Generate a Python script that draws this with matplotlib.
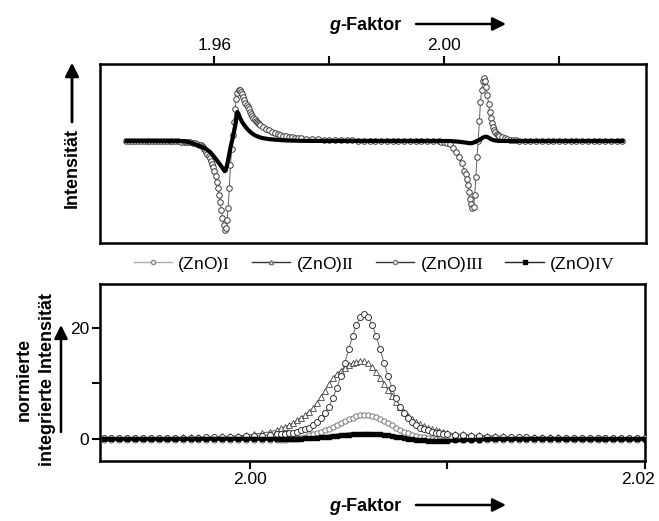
import numpy as np
import matplotlib
matplotlib.use("Agg")
import matplotlib.pyplot as plt
import matplotlib.transforms as mtransforms
from matplotlib.lines import Line2D

plt.rcParams['font.family'] = ['Liberation Sans', 'DejaVu Sans']
plt.rcParams['mathtext.fontset'] = 'custom'
plt.rcParams['mathtext.rm'] = 'Liberation Serif'

# ---- top panel: EPR derivative spectra (g sample grid, then values) ----
top_segments = [(1.9447, 1.9547, 0.0005), (1.9550, 1.9574, 0.0004),
                (1.9576, 1.9680, 0.0002), (1.9685, 1.9745, 0.0005),
                (1.9750, 1.9990, 0.001), (1.9995, 2.0035, 0.0005),
                (2.0037, 2.0095, 0.0002), (2.0100, 2.0130, 0.0005),
                (2.0140, 2.0310, 0.001)]

top_circles = [
    0, 0, 0, 0, 0, 0, 0, 0, 0, 0, 0, 0, 0, -0.1, -0.1, -0.2, -0.2, -0.3, -0.4, -0.5, -0.7,
    -0.8, -1.0, -1.3, -1.7, -2.2, -2.9, -3.8,
    -4.3, -5.2, -6.3, -7.6, -9.0, -10.8, -12.8, -15.0, -17.2, -19.5, -22.5, -26.0, -30.0,
    -35.0, -40.7, -47.0, -53.5, -60.7, -68.5, -76.5, -84.0, -89.0, -87.0, -79.0, -67.0,
    -47.0, -24.0, -8.0, 6.5, 19.5, 32.0, 42.0, 48.5, 51.3, 51.5, 49.5, 47.0, 44.3, 41.4,
    38.5, 36.0, 33.8, 31.6, 29.4, 27.2, 25.3, 23.5, 21.8, 20.4, 19.1, 17.9, 16.9, 16.0,
    14.0, 12.2, 10.6, 9.2, 8.0, 7.0, 6.1, 5.4, 4.8, 4.3, 3.9, 3.5, 3.1,
    2.8, 2.3, 1.9, 1.6, 1.3, 1.1, 0.9, 0.8, 0.7, 0.6, 0.5, 0.5, 0.4, 0.4, 0.3, 0.3, 0.2,
    0.2, 0.1, 0.1, 0.0, 0.0, -0.1, -0.2, -0.3,
    -0.5, -1.0, -1.8, -3.3, -7.0, -10.5, -15.5, -22.0, -29.5,
    -33.0, -38.0, -43.5, -51.0, -57.5, -63.0, -66.5, -66.0, -54.0, -36.0, -16.0, 0.0,
    20.0, 39.0, 51.0, 60.0, 63.3, 60.0, 54.0, 46.0, 37.0, 29.0, 23.0, 18.0, 14.0, 11.0,
    9.0, 7.2, 6.0, 5.0,
    3.8, 2.8, 2.0, 1.4, 1.0, 0.7, 0.5,
    0.3, 0.2, 0.1, 0.1, 0, 0, 0, 0, 0, 0, 0, 0, 0, 0, 0, 0, 0, 0]

top_IV = [
    0, 0, 0, 0, 0, 0, 0, 0, 0, 0, 0, 0, 0, 0, 0, 0, 0, 0, 0, -0.1, -0.3,
    -0.5, -0.9, -1.5, -2.3, -3.2, -4.1, -5.0,
    -5.4, -5.8, -6.3, -6.8, -7.5, -8.2, -9.0, -9.9, -10.8, -12.0, -13.3, -14.8, -16.2,
    -17.6, -19.0, -20.6, -22.2, -23.8, -25.3, -26.8, -28.4, -30.2, -29.0, -24.0, -19.0,
    -12.5, -6.5, -1.5, 3.5, 9.0, 14.5, 21.5, 29.0, 27.0, 24.0, 21.5, 19.3, 17.5, 15.8,
    14.3, 12.9, 11.6, 10.4, 9.3, 8.3, 7.4, 6.6, 5.9, 5.3, 4.8, 4.3, 3.9, 3.5,
    2.8, 2.3, 1.9, 1.6, 1.3, 1.1, 0.9, 0.7, 0.6, 0.5, 0.4, 0.3, 0.2,
    0.2, 0.1, 0.1, 0.1, 0, 0, 0, 0, 0, 0, 0, 0, 0, 0, 0, 0, 0, 0, 0, 0, 0, 0, 0, 0, 0,
    0, 0, 0, 0, -0.2, -0.4, -0.7, -1.0, -1.4,
    -1.6, -1.8, -2.0, -2.2, -2.3, -2.2, -2.0, -1.6, -1.1, -0.6, -0.1, 0.4, 1.0, 1.7, 2.5,
    3.3, 3.9, 4.2, 4.3, 4.0, 3.4, 2.7, 2.0, 1.4, 1.0, 0.7, 0.5, 0.3, 0.2, 0.1,
    0, 0, 0, 0, 0, 0, 0,
    0, 0, 0, 0, 0, 0, 0, 0, 0, 0, 0, 0, 0, 0, 0, 0, 0, 0]

# ---- bottom panel: normalised integrated intensity ----
bottom_segments = [(1.9926, 2.0014, 0.0004), (2.0016, 2.0100, 0.0002),
                   (2.0104, 2.0200, 0.0004)]

bot_I = [
    -0.3, -0.3, -0.3, -0.3, -0.3, -0.3, -0.3, -0.3, -0.3, -0.3, -0.3, -0.3,
    -0.3, -0.3, -0.3, -0.3, -0.3, -0.3, -0.3, -0.3, -0.3, -0.3, -0.3,
    -0.25, -0.2, -0.12, -0.05, 0.05, 0.2, 0.4, 0.6, 0.8, 1.05, 1.3, 1.55, 1.85, 2.15,
    2.45, 2.8, 3.15, 3.5, 3.8, 4.05, 4.25, 4.3, 4.25, 4.1, 3.85, 3.55, 3.2, 2.8, 2.4,
    2.0, 1.6, 1.3, 1.0, 0.75, 0.55, 0.4, 0.25, 0.1, 0.0, -0.1, -0.15, -0.2, -0.25,
    -0.3, -0.3, -0.3, -0.3, -0.3, -0.3, -0.3, -0.3, -0.3, -0.3, -0.3, -0.3, -0.3,
    -0.3, -0.3, -0.3, -0.3, -0.3, -0.3, -0.3, -0.3, -0.3, -0.3, -0.3, -0.3]

bot_II = [
    0.12, 0.13, 0.14, 0.15, 0.16, 0.17, 0.18, 0.19, 0.21, 0.23, 0.25, 0.27,
    0.3, 0.33, 0.37, 0.42, 0.48, 0.55, 0.65, 0.8, 1.05, 1.25, 1.6,
    1.9, 2.2, 2.5, 2.9, 3.4, 3.8, 4.3, 4.9, 5.6, 6.5, 7.6, 8.7, 9.9, 10.9, 11.7, 12.3,
    12.8, 13.3, 13.6, 13.9, 14.0, 14.0, 13.6, 13.0, 12.1, 11.0, 9.9, 8.8, 7.7, 6.7,
    5.7, 4.9, 4.2, 3.6, 3.1, 2.6, 2.3, 2.0, 1.75, 1.55, 1.4, 1.25, 1.1,
    0.9, 0.8, 0.7, 0.62, 0.55, 0.5, 0.45, 0.41, 0.37, 0.34, 0.31, 0.28, 0.26,
    0.24, 0.22, 0.2, 0.19, 0.18, 0.17, 0.16, 0.15, 0.14, 0.13, 0.12, 0.12]

bot_III = [
    0.09, 0.10, 0.10, 0.11, 0.12, 0.13, 0.14, 0.15, 0.16, 0.17, 0.19, 0.21,
    0.23, 0.25, 0.27, 0.30, 0.34, 0.38, 0.43, 0.49, 0.57, 0.66, 0.78,
    0.8, 0.9, 1.0, 1.1, 1.3, 1.5, 1.7, 2.0, 2.4, 3.0, 3.7, 4.6, 5.8, 7.3, 9.1, 11.3,
    13.6, 16.1, 18.5, 20.5, 22.0, 22.5, 22.0, 20.5, 18.5, 16.1, 13.6, 11.3, 9.1, 7.3,
    5.8, 4.6, 3.7, 3.0, 2.4, 2.0, 1.7, 1.5, 1.3, 1.1, 1.0, 0.9, 0.8,
    0.72, 0.61, 0.53, 0.46, 0.40, 0.36, 0.32, 0.29, 0.26, 0.24, 0.22, 0.20, 0.18,
    0.17, 0.16, 0.14, 0.13, 0.12, 0.12, 0.11, 0.10, 0.10, 0.09, 0.09, 0.08]

bot_IV = [
    0, 0, 0, 0, 0, 0, 0, 0, 0, 0, 0, 0, 0, 0, 0, 0, 0, 0, 0, 0, 0, 0, 0,
    0.0, 0.0, 0.0, 0.02, 0.03, 0.05, 0.07, 0.1, 0.14, 0.19, 0.25, 0.32, 0.4, 0.48,
    0.56, 0.63, 0.7, 0.76, 0.81, 0.85, 0.88, 0.9, 0.9, 0.88, 0.84, 0.78, 0.7, 0.6,
    0.5, 0.38, 0.27, 0.15, 0.04, -0.06, -0.15, -0.22, -0.28, -0.33, -0.36, -0.38,
    -0.38, -0.37, -0.35,
    -0.3, -0.25, -0.2, -0.15, -0.1, -0.07, -0.04, -0.02, 0, 0, 0, 0, 0, 0, 0, 0, 0,
    0, 0, 0, 0, 0, 0, 0, 0]

legend_labels = ['(ZnO)$\\mathrm{I}$', '(ZnO)$\\mathrm{II}$',
                 '(ZnO)$\\mathrm{III}$', '(ZnO)$\\mathrm{IV}$']


def grid(segments):
    parts = [np.round(np.arange(a, b + s / 2, s), 5) for a, b, s in segments]
    return np.concatenate(parts)


W, H = 659, 521


def px(x, y):
    # image pixel position -> figure fraction
    return x / W, 1 - y / H


top_g = grid(top_segments)
bot_g = grid(bottom_segments)

fig = plt.figure(figsize=(W / 100, H / 100), dpi=100)
ax1 = fig.add_axes([100 / W, 1 - 243 / H, 546 / W, 179 / H])
ax2 = fig.add_axes([100 / W, 1 - 461 / H, 545 / W, 177 / H])

# top spectra
ax1.plot(top_g, top_circles, '-o', color='#606060', lw=0.7, ms=4.0,
         mfc='white', mec='#3a3a3a', mew=0.7, zorder=2)
ax1.plot(top_g, top_IV, '-', color='black', lw=3.0, zorder=3)
ax1.set_xlim(1.9401, 2.0351)
ax1.set_ylim(-102, 77)
ax1.xaxis.tick_top()
ax1.set_xticks([1.96, 1.98, 2.00, 2.02])
ax1.set_xticklabels(['1.96', '', '2.00', ''])
ax1.set_yticks([])

# bottom integrated intensities
ax2.plot(bot_g, bot_I, '-o', color='#888888', lw=0.7, ms=3.8,
         mfc='white', mec='#666666', mew=0.6, zorder=2)
ax2.plot(bot_g, bot_II, '-^', color='#555555', lw=0.7, ms=4.0,
         mfc='white', mec='#444444', mew=0.6, zorder=3)
ax2.plot(bot_g, bot_III, '-o', color='#666666', lw=0.7, ms=4.3,
         mfc='white', mec='#333333', mew=0.7, zorder=4)
ax2.plot(bot_g, bot_IV, '-s', color='black', lw=2.8, ms=2.4, zorder=5)
ax2.set_xlim(1.99242, 2.0200)
ax2.set_ylim(-4.0, 27.9)
ax2.set_xticks([2.00, 2.01, 2.02])
ax2.set_xticklabels(['2.00', '', '2.02'])
ax2.set_yticks([0, 10, 20])
ax2.set_yticklabels(['0', '', '20'])

for ax in (ax1, ax2):
    for sp in ax.spines.values():
        sp.set_linewidth(1.8)
    ax.tick_params(direction='out', length=6, width=1.5, labelsize=12.5, pad=2)

# keep the last bottom tick label inside the figure
shift = mtransforms.ScaledTranslation(-5 / 72, 0, fig.dpi_scale_trans)
last = ax2.get_xticklabels()[-1]
last.set_transform(last.get_transform() + shift)

# legend between the panels
handles = [
    Line2D([], [], color='#aaaaaa', lw=1, marker='o', ms=3, mfc='white', mec='#888888'),
    Line2D([], [], color='#333333', lw=1, marker='^', ms=3, mfc='white', mec='#777777'),
    Line2D([], [], color='#333333', lw=1, marker='o', ms=3, mfc='white', mec='#777777'),
    Line2D([], [], color='#222222', lw=1, marker='s', ms=2.5, mfc='black', mec='black'),
]
fig.legend(handles, legend_labels, loc='center', bbox_to_anchor=px(374, 264),
           ncol=4, frameon=False, fontsize=12.5, handlelength=2.2,
           handletextpad=0.3, columnspacing=1.3, numpoints=1)

# axis labels with arrows
arrow = dict(arrowstyle='-|>', lw=1.8, color='black', mutation_scale=20,
             shrinkA=0, shrinkB=0)

fig.text(*px(72, 168), 'Intensität', rotation=90, ha='center', va='center',
         fontsize=13, fontweight='bold')
fig.add_artist(plt.annotate('', xy=px(72, 63), xytext=px(72, 122),
                            xycoords='figure fraction', arrowprops=arrow))

fig.text(*px(36, 379), 'normierte\nintegrierte Intensität', rotation=90,
         ha='center', va='center', multialignment='center', linespacing=1.5,
         fontsize=13, fontweight='bold')
ax2.annotate('', xy=px(61, 325), xytext=px(61, 432), xycoords='figure fraction',
             arrowprops=arrow, annotation_clip=False)

for y_base, y_arrow, ax in ((30, 24, ax1), (511, 505, ax2)):
    tg = fig.text(*px(329, y_base), 'g', fontsize=13, fontweight='bold',
                  style='italic', ha='left', va='baseline')
    ax.annotate('-Faktor', xy=(1, 0), xycoords=tg, ha='left', va='bottom',
                fontsize=13, fontweight='bold', annotation_clip=False)
    ax.annotate('', xy=px(506, y_arrow), xytext=px(416, y_arrow),
                xycoords='figure fraction', arrowprops=arrow,
                annotation_clip=False)

fig.savefig('out.png', dpi=100)
